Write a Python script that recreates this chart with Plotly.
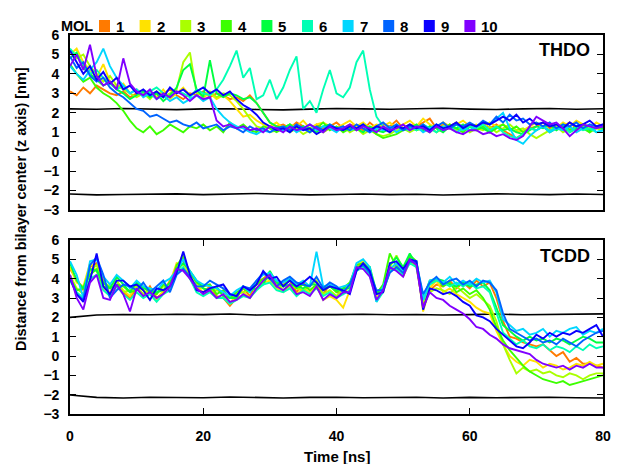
import plotly.graph_objects as go

# ---------------- data ----------------
time_ns = list(range(0, 81))          # 1 ns sampling
time_ref = list(range(0, 81, 4))      # bilayer phosphate reference lines

mol_labels = ["1", "2", "3", "4", "5", "6", "7", "8", "9", "10"]
mol_colors = ["#ff7a00", "#ffe200", "#aaff00", "#3cff00", "#00ff40",
              "#00ffb4", "#00d6ff", "#0064ff", "#0a00ff", "#8000ff"]

# THDO panel (top)
thdo_1 = [3.1, 2.9, 3.3, 3.0, 3.4, 3.2, 3.0, 2.9, 3.1, 2.8,
          3.0, 2.9, 3.1, 2.8, 3.0, 3.2, 2.9, 2.7, 3.0, 2.9,
          3.1, 2.8, 3.0, 2.9, 2.7, 2.8, 2.6, 2.9, 2.5, 2.0,
          1.5, 1.3, 1.4, 1.2, 1.5, 1.3, 1.1, 1.4, 1.2, 1.3,
          1.5, 1.2, 1.4, 1.3, 1.1, 1.5, 1.2, 1.4, 1.3, 1.6,
          1.2, 1.4, 1.3, 1.5, 1.7, 1.2, 1.4, 1.3, 1.5, 1.2,
          1.4, 1.3, 1.5, 1.2, 1.4, 1.1, 0.9, 0.7, 0.9, 1.2,
          1.3, 1.5, 1.2, 1.4, 1.3, 1.5, 1.2, 1.4, 1.3, 1.2, 1.4]
thdo_2 = [5.0, 5.3, 4.6, 4.2, 3.8, 4.5, 3.6, 3.3, 3.5, 3.0,
          3.2, 2.9, 3.1, 2.8, 3.2, 2.7, 3.0, 3.3, 2.9, 3.1,
          2.8, 3.0, 2.7, 2.9, 2.6, 2.2, 1.8, 1.9, 1.6, 1.4,
          1.3, 1.5, 1.2, 1.4, 1.3, 1.6, 1.2, 1.4, 1.5, 1.3,
          1.2, 1.4, 1.6, 1.3, 1.5, 1.2, 1.4, 1.3, 1.5, 1.2,
          1.4, 1.6, 1.3, 1.7, 1.4, 1.2, 1.5, 1.3, 1.4, 1.6,
          1.3, 1.4, 1.2, 1.5, 1.3, 1.4, 1.2, 1.0, 1.1, 1.3,
          1.5, 1.3, 1.4, 1.2, 1.5, 1.3, 1.6, 1.4, 1.2, 1.5, 1.3]
thdo_3 = [5.2, 4.8, 5.0, 4.4, 4.0, 3.6, 3.9, 3.4, 3.2, 3.0,
          2.8, 3.0, 2.7, 3.1, 2.8, 3.0, 3.2, 4.6, 5.1, 3.0,
          2.9, 3.1, 2.8, 3.0, 2.9, 2.6, 2.2, 1.7, 1.3, 1.2,
          1.0, 1.1, 1.3, 1.0, 1.2, 0.9, 1.1, 1.3, 1.0, 1.2,
          1.1, 1.3, 1.0, 1.2, 0.9, 1.1, 0.9, 0.8, 0.9, 1.1,
          1.2, 1.0, 1.2, 1.1, 1.3, 1.0, 1.2, 1.4, 1.1, 1.3,
          1.0, 1.2, 1.1, 1.3, 1.0, 1.2, 1.4, 1.1, 1.2, 0.9,
          0.7, 0.9, 1.1, 1.3, 1.0, 1.2, 1.1, 1.3, 1.0, 1.2, 1.1]
thdo_4 = [4.5, 4.0, 3.6, 3.8, 3.3, 3.0, 2.8, 2.5, 2.1, 1.6,
          1.2, 1.0, 1.3, 0.9, 1.1, 1.4, 1.2, 1.0, 1.3, 1.2,
          1.4, 1.1, 1.3, 1.0, 1.5, 1.2, 1.4, 1.1, 1.0, 1.3,
          1.2, 1.0, 1.2, 1.4, 1.1, 1.3, 1.0, 1.2, 1.5, 1.1,
          1.3, 1.0, 1.2, 1.1, 1.4, 1.2, 0.9, 0.7, 0.8, 0.9,
          1.1, 1.3, 1.1, 1.2, 1.0, 1.3, 1.1, 1.4, 1.2, 1.0,
          1.3, 1.1, 1.3, 1.0, 1.2, 1.4, 1.1, 1.3, 1.0, 1.2,
          1.1, 1.3, 1.0, 1.2, 1.4, 1.1, 1.3, 1.2, 1.0, 1.3, 1.2]
thdo_5 = [4.8, 5.1, 4.3, 4.0, 3.7, 3.4, 3.6, 3.2, 3.0, 2.7,
          2.9, 3.1, 2.8, 3.0, 2.6, 2.9, 3.3, 4.2, 4.5, 3.2,
          2.8, 4.7, 3.0, 2.8, 3.0, 2.9, 2.7, 2.8, 2.5, 2.0,
          1.5, 1.3, 1.2, 1.4, 1.1, 1.3, 1.2, 1.0, 1.3, 1.4,
          1.2, 1.1, 1.3, 1.2, 1.0, 1.3, 1.1, 1.0, 1.2, 1.3,
          1.1, 1.2, 1.4, 1.1, 1.3, 1.2, 1.0, 1.3, 1.2, 1.4,
          1.1, 1.3, 1.2, 1.0, 1.3, 1.1, 1.2, 1.0, 0.9, 1.1,
          1.3, 1.2, 1.4, 1.1, 1.3, 1.0, 1.2, 1.4, 1.1, 1.3, 1.2]
thdo_6 = [5.3, 4.9, 4.5, 4.0, 4.2, 3.8, 3.5, 3.2, 3.4, 3.0,
          3.2, 2.9, 3.1, 3.3, 3.0, 2.8, 3.1, 3.0, 2.8, 3.2,
          3.0, 2.9, 3.2, 3.7, 4.4, 5.2, 3.8, 4.3, 2.7, 2.9,
          3.7, 2.7, 3.3, 4.2, 4.9, 2.2, 2.6, 2.0, 3.2, 4.2,
          3.0, 2.8, 3.3, 4.6, 5.2, 3.2, 1.8, 1.3, 1.1, 1.4,
          1.2, 1.3, 1.1, 1.4, 1.2, 1.0, 1.3, 1.2, 1.4, 1.1,
          1.3, 1.2, 1.4, 1.1, 1.3, 1.0, 0.8, 0.7, 0.9, 1.2,
          1.1, 1.3, 1.1, 1.2, 1.4, 1.0, 1.3, 1.1, 1.2, 1.0, 1.1]
thdo_7 = [4.4, 4.0, 3.7, 4.2, 4.6, 5.3, 4.4, 3.8, 3.4, 3.0,
          3.2, 2.8, 3.0, 2.7, 2.9, 2.6, 2.8, 2.5, 2.7, 2.9,
          2.6, 2.8, 2.2, 1.8, 1.5, 1.3, 1.2, 1.0, 0.9, 1.1,
          1.0, 1.2, 1.1, 1.3, 1.0, 1.2, 1.4, 1.1, 1.3, 1.2,
          1.0, 1.3, 1.1, 1.2, 1.4, 1.0, 1.2, 1.1, 1.3, 1.0,
          1.2, 1.1, 1.3, 1.0, 1.2, 1.4, 1.1, 1.3, 1.0, 1.2,
          1.1, 1.3, 1.5, 1.4, 1.7, 2.0, 1.2, 0.6, 0.4, 0.8,
          1.1, 1.3, 1.0, 1.2, 1.1, 1.3, 1.0, 1.2, 1.4, 1.0, 1.1]
thdo_8 = [4.9, 4.3, 4.6, 3.9, 3.6, 3.8, 3.3, 3.0, 2.8, 2.5,
          2.2, 2.1, 1.8, 1.9, 1.7, 1.5, 1.6, 1.4, 1.3, 1.5,
          1.2, 1.3, 1.4, 1.1, 1.3, 1.2, 1.0, 1.3, 1.1, 1.2,
          1.0, 1.2, 1.3, 1.1, 1.4, 1.2, 1.0, 1.3, 1.1, 1.4,
          1.2, 1.3, 1.1, 1.4, 1.2, 1.0, 1.3, 1.5, 1.2, 1.4,
          1.1, 1.3, 1.2, 1.4, 1.1, 1.3, 1.5, 1.2, 1.4, 1.3,
          1.5, 1.3, 1.6, 1.4, 1.8, 1.5, 1.9, 1.6, 1.7, 1.4,
          1.5, 1.3, 1.5, 1.2, 1.4, 1.3, 1.5, 1.2, 1.4, 1.3, 1.4]
thdo_9 = [5.2, 4.6, 4.0, 4.4, 3.7, 4.1, 3.5, 3.8, 3.2, 3.4,
          3.0, 3.2, 2.9, 3.1, 2.8, 3.3, 3.0, 3.2, 2.9, 3.1,
          3.3, 3.0, 3.2, 2.9, 3.1, 2.7, 2.4, 2.2, 1.9, 1.5,
          1.3, 1.1, 1.2, 1.0, 1.3, 1.1, 1.2, 0.9, 1.1, 1.3,
          1.2, 1.1, 1.3, 1.2, 1.4, 1.1, 1.3, 1.2, 1.0, 1.3,
          1.2, 1.4, 1.2, 1.3, 1.1, 1.4, 1.2, 1.3, 1.5, 1.2,
          1.4, 1.3, 1.5, 1.4, 1.6, 1.8, 1.6, 1.9, 1.5, 1.7,
          1.4, 1.5, 1.3, 1.4, 1.2, 1.5, 1.3, 1.4, 1.6, 1.3, 1.4]
thdo_10 = [4.4, 5.0, 4.2, 5.5, 3.9, 3.4, 3.6, 3.2, 4.8, 3.5,
           3.1, 2.9, 3.2, 2.7, 3.0, 2.8, 3.1, 2.9, 2.6, 2.9,
           2.7, 2.8, 1.6, 1.3, 1.4, 1.2, 1.3, 1.1, 1.2, 1.0,
           1.3, 1.2, 1.0, 1.3, 1.1, 1.2, 1.4, 1.2, 1.0, 1.3,
           1.1, 1.2, 1.4, 1.1, 1.3, 1.2, 1.0, 1.3, 1.1, 1.2,
           1.4, 1.1, 1.3, 1.2, 1.0, 1.3, 1.1, 1.2, 1.0, 0.9,
           1.1, 1.1, 0.9, 1.0, 0.8, 0.9, 0.7, 0.6, 0.8, 1.3,
           1.8, 1.6, 1.4, 1.5, 1.2, 0.8, 1.1, 1.4, 1.3, 1.2, 1.3]

# TCDD panel (bottom)
tcdd_1 = [4.5, 4.0, 3.4, 4.6, 4.8, 3.9, 3.2, 3.6, 3.3, 3.0,
          3.5, 3.1, 3.6, 3.0, 3.3, 3.9, 4.5, 5.0, 4.0, 3.5,
          3.3, 3.6, 3.1, 3.0, 2.6, 3.0, 3.5, 3.1, 3.8, 4.0,
          4.3, 3.6, 3.7, 3.9, 3.3, 3.8, 3.4, 3.6, 3.2, 3.7,
          3.3, 3.2, 3.7, 4.5, 4.9, 4.2, 3.2, 3.3, 4.4, 4.8,
          4.1, 4.9, 4.6, 2.6, 3.4, 3.7, 3.6, 3.9, 3.5, 3.8,
          3.5, 3.9, 3.6, 3.8, 3.0, 1.8, 1.0, 0.9, 0.7, 0.6,
          0.5, 0.6, 0.3, 0.0, 0.2, -0.3, -0.1, -0.4, -0.4, -0.5, -0.6]
tcdd_2 = [4.6, 3.8, 3.6, 4.8, 4.4, 3.5, 3.3, 3.9, 3.4, 3.1,
          3.7, 3.4, 3.2, 2.9, 3.4, 3.8, 4.8, 4.7, 4.3, 3.8,
          3.2, 3.4, 3.5, 3.1, 2.7, 3.2, 3.3, 3.0, 3.5, 3.8,
          3.9, 3.5, 3.3, 3.6, 3.2, 3.5, 3.3, 3.6, 2.9, 3.1,
          2.9, 2.5, 3.4, 4.7, 4.9, 4.5, 3.0, 3.6, 4.6, 4.5,
          4.4, 5.1, 4.9, 2.3, 3.5, 3.9, 3.3, 3.5, 3.2, 3.0,
          2.8, 2.5, 2.3, 2.2, 1.3, 0.6, 0.0, -0.3, -0.5, -0.2,
          -0.3, -0.6, -0.4, -0.5, -0.7, -0.6, -0.4, -0.5, -0.3, -0.5, -0.4]
tcdd_3 = [4.2, 3.5, 3.2, 4.4, 4.7, 3.8, 3.6, 3.9, 3.3, 3.4,
          3.6, 3.2, 3.5, 3.2, 3.6, 3.6, 4.5, 5.3, 4.1, 3.6,
          3.5, 3.3, 3.4, 3.3, 3.0, 3.2, 3.3, 3.4, 3.7, 3.8,
          4.2, 3.8, 3.4, 3.7, 3.5, 3.4, 3.6, 3.9, 3.2, 3.4,
          3.1, 3.5, 3.5, 4.5, 4.7, 4.3, 3.3, 3.6, 4.6, 5.2,
          4.5, 4.9, 4.7, 2.8, 3.3, 3.5, 3.4, 3.2, 3.6, 3.3,
          3.0, 3.2, 2.9, 2.6, 1.8, 0.6, -0.2, -0.9, -0.6, -0.8,
          -0.7, -0.9, -0.8, -1.0, -1.1, -0.9, -1.0, -1.2, -1.0, -0.9, -0.9]
tcdd_4 = [4.0, 3.4, 3.5, 4.2, 4.5, 3.6, 3.5, 3.7, 3.6, 3.3,
          3.4, 3.6, 3.3, 3.2, 3.7, 3.5, 4.7, 5.1, 4.3, 3.8,
          3.6, 3.7, 3.2, 3.4, 3.0, 3.3, 3.5, 3.3, 3.7, 4.0,
          4.0, 3.9, 3.6, 4.0, 3.5, 3.7, 3.4, 3.7, 3.4, 3.6,
          3.3, 3.5, 3.8, 4.7, 4.8, 4.5, 3.2, 3.7, 5.3, 4.6,
          4.5, 5.2, 4.9, 2.9, 3.7, 4.0, 3.6, 3.8, 3.3, 3.5,
          3.2, 3.4, 3.0, 2.4, 1.5, 0.8, 0.3, -0.1, -0.5, -0.8,
          -1.0, -1.2, -1.3, -1.4, -1.3, -1.5, -1.4, -1.3, -1.2, -1.1, -1.0]
tcdd_5 = [4.8, 3.9, 3.5, 4.5, 4.4, 3.8, 3.5, 4.1, 3.7, 3.3,
          3.8, 3.5, 3.4, 3.3, 3.4, 3.8, 4.4, 4.8, 4.4, 3.9,
          3.5, 3.4, 3.6, 3.1, 3.0, 3.0, 3.6, 3.4, 3.5, 3.7,
          4.4, 3.8, 3.6, 3.7, 3.6, 3.5, 3.7, 3.7, 3.5, 3.6,
          3.4, 3.5, 3.5, 4.6, 4.6, 4.6, 3.3, 3.5, 4.7, 5.1,
          4.6, 5.3, 4.7, 3.0, 3.9, 4.0, 3.9, 3.7, 3.6, 3.8,
          3.6, 3.7, 3.8, 3.4, 2.5, 1.6, 1.3, 1.0, 0.8, 1.0,
          0.8, 0.9, 0.7, 0.9, 0.8, 0.6, 0.8, 1.0, 0.9, 0.7, 0.7]
tcdd_6 = [3.9, 3.3, 3.0, 4.0, 4.2, 3.4, 3.1, 3.6, 3.2, 2.9,
          3.3, 3.0, 3.2, 2.8, 3.2, 3.4, 4.3, 4.6, 4.0, 3.3,
          3.1, 3.3, 3.0, 3.0, 2.7, 2.9, 3.1, 3.0, 3.4, 3.7,
          3.8, 3.4, 3.3, 3.5, 3.1, 3.4, 3.2, 3.5, 3.1, 3.3,
          3.0, 3.2, 3.4, 4.4, 4.6, 4.2, 2.8, 3.3, 4.4, 4.5,
          4.2, 4.8, 4.6, 2.9, 3.7, 3.9, 3.8, 3.6, 3.8, 3.6,
          3.8, 3.5, 3.6, 3.3, 2.2, 1.2, 0.9, 0.6, 0.8, 0.5,
          0.4, 0.6, 0.3, 0.5, 0.4, 0.2, 0.5, 0.3, 0.6, 0.4, 0.5]
tcdd_7 = [4.9, 4.2, 3.0, 4.9, 5.0, 4.1, 3.7, 4.2, 3.9, 3.5,
          3.9, 3.6, 3.5, 3.4, 3.8, 4.0, 4.4, 5.0, 4.4, 3.9,
          3.7, 3.6, 3.5, 3.3, 3.1, 3.4, 3.6, 3.3, 3.9, 4.2,
          4.3, 3.9, 3.8, 4.0, 3.7, 3.9, 3.6, 5.4, 3.6, 3.7,
          3.5, 3.6, 3.7, 4.8, 5.0, 4.6, 2.8, 3.6, 4.5, 4.8,
          4.4, 5.0, 4.9, 2.9, 3.9, 4.0, 3.8, 4.1, 3.7, 3.9,
          3.7, 4.0, 3.8, 3.9, 3.3, 1.9, 1.6, 1.3, 1.4, 1.1,
          1.2, 1.4, 1.0, 1.3, 1.2, 1.4, 1.5, 1.1, 1.3, 1.2, 1.4]
tcdd_8 = [4.1, 3.2, 2.9, 4.7, 5.1, 4.2, 3.0, 3.4, 3.7, 3.6,
          3.4, 3.8, 3.3, 3.6, 3.9, 3.3, 4.2, 4.5, 4.1, 3.6,
          3.6, 3.9, 3.7, 3.5, 3.2, 3.1, 3.6, 3.5, 3.9, 4.3,
          4.0, 3.6, 3.9, 4.1, 3.8, 3.7, 3.6, 4.1, 3.5, 3.8,
          3.6, 3.3, 3.7, 4.5, 4.7, 4.3, 3.4, 3.4, 4.3, 4.6,
          4.3, 4.9, 4.8, 3.2, 3.8, 4.1, 3.7, 3.9, 4.0, 3.7,
          3.9, 3.6, 3.9, 3.8, 3.4, 2.2, 1.4, 1.2, 1.0, 0.8,
          0.9, 0.7, 0.8, 0.6, 0.9, 0.7, 0.5, 0.8, 1.0, 1.2, 1.3]
tcdd_9 = [4.0, 3.2, 2.8, 3.9, 5.3, 3.6, 3.2, 3.9, 3.9, 3.6,
          3.7, 3.4, 2.9, 3.5, 3.4, 3.6, 4.3, 5.4, 4.2, 3.4,
          3.3, 3.5, 3.6, 3.7, 3.2, 3.1, 3.6, 3.4, 3.7, 4.4,
          4.0, 4.1, 3.6, 3.9, 3.6, 3.8, 4.1, 3.8, 3.4, 3.6,
          3.5, 3.4, 3.2, 4.4, 4.8, 4.4, 3.2, 3.3, 4.8, 4.9,
          4.5, 5.0, 4.9, 2.4, 3.5, 3.4, 3.2, 3.3, 3.1, 2.8,
          2.6, 2.1, 2.0, 1.8, 1.4, 1.1, 0.8, 0.5, 0.4, 0.7,
          1.1, 0.9, 1.2, 1.0, 1.2, 1.1, 1.3, 1.2, 1.4, 1.6, 1.0]
tcdd_10 = [4.2, 3.0, 2.4, 3.8, 4.2, 3.0, 2.9, 3.7, 3.2, 2.3,
           3.5, 3.1, 3.3, 3.0, 3.2, 3.6, 4.5, 4.4, 4.0, 3.5,
           3.2, 3.4, 3.0, 3.2, 2.8, 2.9, 3.2, 3.0, 3.5, 3.9,
           4.2, 3.6, 3.4, 3.7, 3.2, 3.3, 3.1, 3.6, 2.9, 3.2,
           3.0, 3.3, 3.3, 4.6, 4.5, 4.1, 2.9, 3.4, 4.6, 4.4,
           4.1, 5.0, 4.7, 2.5, 3.3, 3.0, 2.9, 2.6, 2.4, 2.2,
           1.9, 1.5, 1.4, 1.1, 0.9, 0.6, 0.4, 0.3, 0.2, 0.1,
           -0.2, -0.4, -0.5, -0.6, -0.5, -0.7, -0.5, -0.6, -0.4, -0.6, -0.6]

# bilayer phosphate reference positions (black lines)
thdo_upper = [2.20, 2.18, 2.22, 2.19, 2.16, 2.20, 2.21, 2.17, 2.15, 2.19, 2.22,
              2.20, 2.18, 2.21, 2.23, 2.19, 2.17, 2.20, 2.22, 2.18, 2.21]
thdo_lower = [-2.18, -2.22, -2.20, -2.19, -2.17, -2.21, -2.18, -2.15, -2.19, -2.22, -2.20,
              -2.18, -2.21, -2.19, -2.23, -2.20, -2.17, -2.19, -2.21, -2.18, -2.20]
tcdd_upper = [2.00, 2.12, 2.15, 2.13, 2.16, 2.14, 2.17, 2.12, 2.15, 2.13, 2.14,
              2.16, 2.13, 2.15, 2.12, 2.14, 2.17, 2.13, 2.15, 2.14, 2.18]
tcdd_lower = [-2.02, -2.14, -2.17, -2.13, -2.15, -2.16, -2.12, -2.15, -2.17, -2.14, -2.13,
              -2.16, -2.15, -2.13, -2.17, -2.14, -2.16, -2.15, -2.13, -2.16, -2.17]

y_ticks = [-3, -2, -1, 0, 1, 2, 3, 4, 5, 6]
x_ticks = [0, 20, 40, 60, 80]

thdo = [thdo_1, thdo_2, thdo_3, thdo_4, thdo_5, thdo_6, thdo_7, thdo_8, thdo_9, thdo_10]
tcdd = [tcdd_1, tcdd_2, tcdd_3, tcdd_4, tcdd_5, tcdd_6, tcdd_7, tcdd_8, tcdd_9, tcdd_10]

# ---------------- figure ----------------
W, H = 617, 464
L, R, T, B = 70, 14, 35, 50
FONT = "Liberation Sans, Arial, Helvetica, sans-serif"


def px2x(px):
    return (px - L) / (W - L - R)


def py2y(py):
    return (H - B - py) / (H - T - B)


fig = go.Figure()

for ys, xa, ya in [(thdo_upper, "x", "y"), (thdo_lower, "x", "y"),
                   (tcdd_upper, "x2", "y2"), (tcdd_lower, "x2", "y2")]:
    fig.add_trace(go.Scatter(x=time_ref, y=ys, mode="lines", xaxis=xa, yaxis=ya,
                             line=dict(color="black", width=1.6), showlegend=False,
                             hoverinfo="skip"))

for i in range(10):
    fig.add_trace(go.Scatter(x=time_ns, y=thdo[i], mode="lines", xaxis="x", yaxis="y",
                             name=mol_labels[i], line=dict(color=mol_colors[i], width=1.9),
                             showlegend=False))
for i in range(10):
    fig.add_trace(go.Scatter(x=time_ns, y=tcdd[i], mode="lines", xaxis="x2", yaxis="y2",
                             name=mol_labels[i], line=dict(color=mol_colors[i], width=1.9),
                             showlegend=False))

top_dom = [py2y(210), 1.0]
bot_dom = [0.0, py2y(240)]

tickfont = dict(family=FONT, size=14, color="black", weight="bold")
common_y = dict(range=[-3, 6], tickvals=y_ticks, ticks="inside", ticklen=6, tickwidth=1.2,
                tickcolor="black", showline=True, linecolor="black", linewidth=1.6,
                mirror="allticks", showgrid=False, zeroline=False, tickfont=tickfont,
                ticklabelstandoff=6, automargin=False)

fig.update_layout(
    width=W, height=H,
    margin=dict(l=L, r=R, t=T, b=B),
    paper_bgcolor="white", plot_bgcolor="white",
    showlegend=False,
    xaxis=dict(domain=[0, 1], range=[0, 80], anchor="y", showticklabels=False, ticks="",
               showline=True, linecolor="black", linewidth=1.6, mirror=True,
               showgrid=False, zeroline=False, automargin=False),
    yaxis=dict(domain=top_dom, anchor="x", **common_y),
    xaxis2=dict(domain=[0, 1], range=[0, 80], anchor="y2", tickvals=x_ticks,
                ticks="inside", ticklen=6, tickwidth=1.2, tickcolor="black",
                showline=True, linecolor="black", linewidth=1.6, mirror="allticks",
                showgrid=False, zeroline=False, tickfont=tickfont, ticklabelstandoff=8,
                automargin=False),
    yaxis2=dict(domain=bot_dom, anchor="x2", **common_y),
)

ann = []
ann.append(dict(text="THDO", x=px2x(592), y=py2y(50), xref="paper", yref="paper",
                xanchor="right", yanchor="middle", showarrow=False,
                font=dict(family=FONT, size=18, color="black", weight="bold")))
ann.append(dict(text="TCDD", x=px2x(592), y=py2y(256), xref="paper", yref="paper",
                xanchor="right", yanchor="middle", showarrow=False,
                font=dict(family=FONT, size=18, color="black", weight="bold")))
ann.append(dict(text="Time [ns]", x=px2x(337), y=py2y(456), xref="paper", yref="paper",
                xanchor="center", yanchor="middle", showarrow=False,
                font=dict(family=FONT, size=15, color="black", weight="bold")))
ann.append(dict(text="Distance from bilayer center (z axis) [nm]", x=px2x(21), y=py2y(209),
                xref="paper", yref="paper", xanchor="center", yanchor="middle",
                textangle=-90, showarrow=False,
                font=dict(family=FONT, size=14.5, color="black", weight="bold")))
# key
ann.append(dict(text="MOL", x=px2x(59), y=py2y(26), xref="paper", yref="paper",
                xanchor="left", yanchor="middle", showarrow=False,
                font=dict(family=FONT, size=14.5, color="black", weight="bold")))
shapes = []
for i in range(10):
    sx = 99 + 40.6 * i
    shapes.append(dict(type="rect", xref="paper", yref="paper",
                       x0=px2x(sx), x1=px2x(sx + 11), y0=py2y(32), y1=py2y(20),
                       fillcolor=mol_colors[i], line=dict(width=0)))
    ann.append(dict(text=mol_labels[i], x=px2x(sx + 15), y=py2y(26), xref="paper",
                    yref="paper", xanchor="left", yanchor="middle", showarrow=False,
                    font=dict(family=FONT, size=15, color="black", weight="bold")))

fig.update_layout(annotations=ann, shapes=shapes)
fig.write_html("out.html", config={"displayModeBar": False},
               post_script="document.body.style.margin='0';")
